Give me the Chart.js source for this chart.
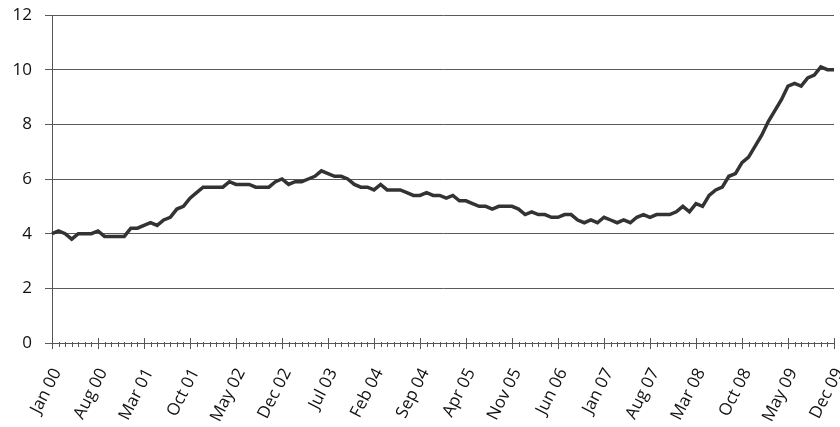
<!DOCTYPE html>
<html>
<head>
<meta charset="utf-8">
<script src="https://cdn.jsdelivr.net/npm/chart.js@4.4.1/dist/chart.umd.min.js"></script>
<style>
  html, body { margin: 0; padding: 0; background: #fff; }
  #wrap { width: 840px; height: 427px; }
</style>
</head>
<body>
<div id="wrap"><canvas id="rateChart" width="840" height="427"></canvas></div>
<script>
// monthly values, Jan 2000 - Dec 2009
const years = ['00', '01', '02', '03', '04', '05', '06', '07', '08', '09'];
const months = ['Jan', 'Feb', 'Mar', 'Apr', 'May', 'Jun', 'Jul', 'Aug', 'Sep', 'Oct', 'Nov', 'Dec'];

const y2000 = [4.0, 4.1, 4.0, 3.8, 4.0, 4.0, 4.0, 4.1, 3.9, 3.9, 3.9, 3.9];
const y2001 = [4.2, 4.2, 4.3, 4.4, 4.3, 4.5, 4.6, 4.9, 5.0, 5.3, 5.5, 5.7];
const y2002 = [5.7, 5.7, 5.7, 5.9, 5.8, 5.8, 5.8, 5.7, 5.7, 5.7, 5.9, 6.0];
const y2003 = [5.8, 5.9, 5.9, 6.0, 6.1, 6.3, 6.2, 6.1, 6.1, 6.0, 5.8, 5.7];
const y2004 = [5.7, 5.6, 5.8, 5.6, 5.6, 5.6, 5.5, 5.4, 5.4, 5.5, 5.4, 5.4];
const y2005 = [5.3, 5.4, 5.2, 5.2, 5.1, 5.0, 5.0, 4.9, 5.0, 5.0, 5.0, 4.9];
const y2006 = [4.7, 4.8, 4.7, 4.7, 4.6, 4.6, 4.7, 4.7, 4.5, 4.4, 4.5, 4.4];
const y2007 = [4.6, 4.5, 4.4, 4.5, 4.4, 4.6, 4.7, 4.6, 4.7, 4.7, 4.7, 4.8];
const y2008 = [5.0, 4.8, 5.1, 5.0, 5.4, 5.6, 5.7, 6.1, 6.2, 6.6, 6.8, 7.2];
const y2009 = [7.6, 8.1, 8.5, 8.9, 9.4, 9.5, 9.4, 9.7, 9.8, 10.1, 10.0, 10.0];

const yTicks = [0, 2, 4, 6, 8, 10, 12];
const labelEvery = 7;

const labels = [];
years.forEach(y => months.forEach(m => labels.push(m + ' ' + y)));
const values = [].concat(y2000, y2001, y2002, y2003, y2004, y2005, y2006, y2007, y2008, y2009);

// Excel-style tick marks: small one per month, longer one per label
const monthTicks = {
    id: 'monthTicks',
    afterDraw(chart) {
        const x = chart.scales.x;
        const ctx = chart.ctx;
        const base = x.top;
        ctx.save();
        ctx.strokeStyle = '#555';
        ctx.lineWidth = 1;
        ctx.beginPath();
        for (let i = 0; i < labels.length; i++) {
            const px = Math.round(x.getPixelForValue(i)) + 0.5;
            if (i % labelEvery === 0) {
                ctx.moveTo(px, base - 5);
                ctx.lineTo(px, base + 6);
            } else {
                ctx.moveTo(px, base - 1);
                ctx.lineTo(px, base + 4);
            }
        }
        ctx.stroke();
        ctx.restore();
    }
};

const ctx = document.getElementById('rateChart').getContext('2d');
new Chart(ctx, {
    type: 'line',
    data: {
        labels: labels,
        datasets: [{
            data: values,
            borderColor: '#333',
            borderWidth: 3.5,
            pointRadius: 0,
            tension: 0
        }]
    },
    options: {
        responsive: false,
        animation: false,
        layout: { padding: { top: 15, right: 6, left: 0, bottom: 0 } },
        plugins: {
            legend: { display: false },
            tooltip: { enabled: false }
        },
        scales: {
            x: {
                type: 'category',
                offset: false,
                afterFit(scale) {
                    scale.height = 84;
                    scale.paddingRight = 0;
                },
                grid: { display: false, drawTicks: false },
                border: { display: true, color: '#555', width: 1 },
                ticks: {
                    autoSkip: false,
                    maxRotation: 63,
                    minRotation: 63,
                    padding: 22,
                    labelOffset: 5,
                    color: '#111',
                    font: { family: 'Open Sans', size: 17 },
                    callback: function (val, i) {
                        return i % labelEvery === 0 ? labels[i] : '';
                    }
                }
            },
            y: {
                min: 0,
                max: 12,
                afterFit(scale) {
                    scale.width = 52;
                    scale.paddingTop = 0;
                    scale.paddingBottom = 0;
                },
                afterBuildTicks(scale) { scale.ticks = yTicks.map(v => ({ value: v })); },
                grid: { color: '#5a5a5a', lineWidth: 1, tickLength: 7 },
                border: { display: true, color: '#555', width: 1 },
                ticks: {
                    padding: 13,
                    color: '#111',
                    font: { family: 'Open Sans', size: 17 }
                }
            }
        }
    },
    plugins: [monthTicks]
});
</script>
</body>
</html>
